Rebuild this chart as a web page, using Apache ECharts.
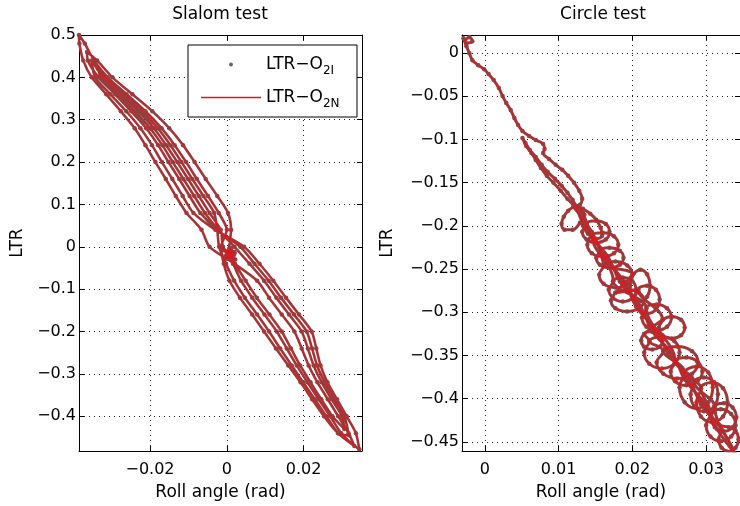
<!DOCTYPE html>
<html><head><meta charset="utf-8">
<script src="https://cdn.jsdelivr.net/npm/echarts@6/dist/echarts.min.js"></script>
<style>html,body{margin:0;padding:0;background:#fff}#c{width:740px;height:506px}</style>
</head><body><div id="c"></div><script>
// ---- tick labels / axis ranges ----
const slalomXTicks = [-0.02, 0, 0.02];
const slalomYTicks = [-0.4, -0.3, -0.2, -0.1, 0, 0.1, 0.2, 0.3, 0.4, 0.5];
const circleXTicks = [0, 0.01, 0.02, 0.03];
const circleYTicks = [-0.45, -0.4, -0.35, -0.3, -0.25, -0.2, -0.15, -0.1, -0.05, 0];
const slalomXRange = [-0.0385, 0.0352];
const slalomYRange = [-0.482, 0.5];
const circleXRange = [-0.0031, 0.0346];
const circleYRange = [-0.4605, 0.021];
const seriesNames = ['LTR-O2I', 'LTR-O2N'];

// ---- Slalom test: [roll angle (rad), LTR] in time order ----
const slalomPath = [
[0.0005,-0.010],[0.0018,-0.020],[-0.0010,-0.004],[0.0022,-0.030],[-0.0004,-0.022],[0.0012,-0.002],[0.0000,-0.014],[0.0020,-0.012],[0.0006,-0.004],
[0.0011,0.04],[0.0003,0.08],[-0.0025,0.12],[-0.0055,0.16],[-0.0084,0.20],[-0.0114,0.24],[-0.0150,0.28],[-0.0194,0.32],[-0.0246,0.36],[-0.0298,0.40],[-0.0338,0.44],[-0.0364,0.46],
[-0.0362,0.44],[-0.0334,0.40],[-0.0291,0.36],[-0.0249,0.32],[-0.0210,0.28],[-0.0179,0.24],[-0.0152,0.20],[-0.0124,0.16],[-0.0097,0.12],[-0.0069,0.08],[-0.0025,0.04],[0.0035,0.00],[0.0072,-0.04],[0.0109,-0.08],[0.0141,-0.12],[0.0175,-0.16],[0.0208,-0.20],[0.0222,-0.24],[0.0235,-0.28],[0.0255,-0.32],[0.0280,-0.36],[0.0306,-0.40],[0.0318,-0.445],
[0.0290,-0.44],[0.0253,-0.40],[0.0222,-0.36],[0.0192,-0.32],[0.0160,-0.28],[0.0128,-0.24],[0.0097,-0.20],[0.0066,-0.16],[0.0034,-0.12],[0.0007,-0.08],[-0.0008,-0.04],[-0.0015,0.00],[0.0000,0.04],[-0.0021,0.08],[-0.0049,0.12],[-0.0078,0.16],[-0.0106,0.20],[-0.0136,0.24],[-0.0170,0.28],[-0.0212,0.32],[-0.0261,0.36],[-0.0310,0.40],[-0.0346,0.44],[-0.0370,0.48],[-0.0385,0.50],
[-0.0384,0.48],[-0.0374,0.44],[-0.0352,0.40],[-0.0314,0.36],[-0.0276,0.32],[-0.0240,0.28],[-0.0212,0.24],[-0.0186,0.20],[-0.0159,0.16],[-0.0133,0.12],[-0.0105,0.08],[-0.0066,0.04],[-0.0045,0.00],[0.0020,-0.04],[0.0079,-0.08],[0.0110,-0.12],[0.0143,-0.16],[0.0176,-0.20],[0.0195,-0.24],[0.0213,-0.28],[0.0236,-0.32],[0.0263,-0.36],[0.0290,-0.40],[0.0317,-0.44],[0.0332,-0.47],
[0.0298,-0.44],[0.0269,-0.40],[0.0239,-0.36],[0.0210,-0.32],[0.0182,-0.28],[0.0156,-0.24],[0.0130,-0.20],[0.0098,-0.16],[0.0066,-0.12],[0.0037,-0.08],[0.0016,-0.04],[-0.0010,0.00],[-0.0016,0.04],[-0.0045,0.08],[-0.0073,0.12],[-0.0101,0.16],[-0.0129,0.20],[-0.0158,0.24],[-0.0190,0.28],[-0.0230,0.32],[-0.0276,0.36],[-0.0322,0.40],[-0.0352,0.44],
[-0.0343,0.40],[-0.0303,0.36],[-0.0262,0.32],[-0.0225,0.28],[-0.0195,0.24],[-0.0169,0.20],[-0.0142,0.16],[-0.0115,0.12],[-0.0087,0.08],[-0.0030,0.04],[0.0045,0.00],[0.0085,-0.04],[0.0121,-0.08],[0.0154,-0.12],[0.0188,-0.16],[0.0221,-0.20],[0.0233,-0.24],[0.0244,-0.28],[0.0262,-0.32],[0.0287,-0.36],[0.0312,-0.40],[0.0336,-0.44],[0.0345,-0.478],
[0.0290,-0.44],[0.0259,-0.40],[0.0229,-0.36],[0.0199,-0.32],[0.0169,-0.28],[0.0139,-0.24],[0.0110,-0.20],[0.0079,-0.16],[0.0047,-0.12],[0.0019,-0.08],[-0.0002,-0.04],[-0.0020,0.00],[-0.0025,0.04],[-0.0033,0.08],[-0.0061,0.12],[-0.0090,0.16],[-0.0118,0.20],[-0.0147,0.24],[-0.0180,0.28],[-0.0221,0.32],[-0.0269,0.36],[-0.0316,0.40],[-0.0335,0.42],
[-0.0328,0.40],[-0.0284,0.36],[-0.0240,0.32],[-0.0200,0.28],[-0.0168,0.24],[-0.0141,0.20],[-0.0113,0.16],[-0.0085,0.12],[-0.0057,0.08],[-0.0022,0.04],[0.0020,0.00],[0.0059,-0.04],[0.0097,-0.08],[0.0129,-0.12],[0.0162,-0.16],[0.0195,-0.20],[0.0211,-0.24],[0.0226,-0.28],[0.0247,-0.32],[0.0273,-0.36],[0.0300,-0.40],[0.0306,-0.43],
[0.0275,-0.40],[0.0246,-0.36],[0.0218,-0.32],[0.0191,-0.28],[0.0167,-0.24],[0.0143,-0.20],[0.0111,-0.16],[0.0078,-0.12],[0.0049,-0.08],[0.0021,-0.04],[0.0010,-0.02],
[0.0004,-0.012],[0.0016,-0.024],[-0.0008,-0.008],[0.0020,-0.016],[-0.0002,-0.028],[0.0010,-0.006],[0.0002,-0.018]
];

// ---- Circle test: [roll angle (rad), LTR] in time order ----
const circlePath = [
[-0.0027,0.0150],[-0.0021,0.0185],[-0.0017,0.0139],[-0.0025,0.0115],[-0.0029,0.0173],[-0.0025,0.0081],[-0.0021,0.0000],[-0.0017,-0.0081],[-0.0009,-0.0139],[-0.0001,-0.0185],[0.0005,-0.0242],[0.0012,-0.0312],[0.0019,-0.0404],[0.0024,-0.0497],[0.0029,-0.0577],[0.0035,-0.0658],[0.0040,-0.0751],[0.0045,-0.0831],[0.0051,-0.0901],
[0.0060,-0.0958],[0.0069,-0.1005],[0.0079,-0.1051],[0.0081,-0.1109],[0.0079,-0.1155],[0.0087,-0.1224],[0.0096,-0.1293],[0.0105,-0.1351],[0.0113,-0.1420],[0.0121,-0.1501],[0.0128,-0.1594],[0.0132,-0.1686],[0.0129,-0.1755],
[0.0121,-0.1778],[0.0113,-0.1824],[0.0107,-0.1894],[0.0104,-0.1975],[0.0108,-0.2044],[0.0119,-0.2044],[0.0129,-0.1963],[0.0135,-0.1871],[0.0128,-0.1790],[0.0120,-0.1755],
[0.0112,-0.1686],[0.0103,-0.1594],[0.0093,-0.1501],[0.0084,-0.1420],[0.0076,-0.1328],[0.0069,-0.1236],[0.0063,-0.1155],[0.0056,-0.1074],[0.0051,-0.0982],
[0.0055,-0.1039],[0.0061,-0.1120],[0.0069,-0.1201],[0.0077,-0.1293],[0.0085,-0.1374],[0.0095,-0.1455],[0.0104,-0.1536],[0.0112,-0.1617],[0.0119,-0.1697],[0.0124,-0.1767],
[0.0133,-0.1801],[0.0143,-0.1859],[0.0151,-0.1928],[0.0157,-0.2021],[0.0159,-0.2113],[0.0151,-0.2148],[0.0140,-0.2090],[0.0133,-0.1998],[0.0131,-0.1905],
[0.0120,-0.1778],[0.0145,-0.2067],[0.0161,-0.2356],[0.0189,-0.2644],[0.0205,-0.2933],[0.0233,-0.3222],[0.0249,-0.3487],[0.0277,-0.3776],[0.0293,-0.4065],[0.0321,-0.4353],[0.0340,-0.4642],
[0.0315,-0.4353],[0.0299,-0.4065],[0.0271,-0.3776],[0.0255,-0.3487],[0.0227,-0.3222],[0.0211,-0.2933],[0.0183,-0.2644],[0.0167,-0.2356],[0.0139,-0.2067],[0.0124,-0.1778],
[0.0138,-0.1977],[0.0132,-0.2067],[0.0138,-0.2157],[0.0151,-0.2194],[0.0164,-0.2157],[0.0169,-0.2067],[0.0164,-0.1977],[0.0151,-0.1940],[0.0138,-0.1977],
[0.0156,-0.2286],[0.0151,-0.2367],[0.0156,-0.2449],[0.0169,-0.2483],[0.0183,-0.2449],[0.0188,-0.2367],[0.0183,-0.2286],[0.0169,-0.2252],[0.0156,-0.2286],
[0.0161,-0.2457],[0.0155,-0.2564],[0.0161,-0.2670],[0.0177,-0.2714],[0.0193,-0.2670],[0.0200,-0.2564],[0.0193,-0.2457],[0.0177,-0.2413],[0.0161,-0.2457],
[0.0201,-0.2560],[0.0197,-0.2691],[0.0201,-0.2821],[0.0211,-0.2875],[0.0220,-0.2821],[0.0224,-0.2691],[0.0220,-0.2560],[0.0211,-0.2506],[0.0201,-0.2560],
[0.0177,-0.2774],[0.0171,-0.2864],[0.0177,-0.2954],[0.0193,-0.2991],[0.0209,-0.2954],[0.0216,-0.2864],[0.0209,-0.2774],[0.0193,-0.2737],[0.0177,-0.2774],
[0.0208,-0.2738],[0.0203,-0.2852],[0.0208,-0.2967],[0.0220,-0.3014],[0.0232,-0.2967],[0.0237,-0.2852],[0.0232,-0.2738],[0.0220,-0.2691],[0.0208,-0.2738],
[0.0241,-0.3086],[0.0236,-0.3176],[0.0241,-0.3265],[0.0253,-0.3303],[0.0266,-0.3265],[0.0271,-0.3176],[0.0266,-0.3086],[0.0253,-0.3049],[0.0241,-0.3086],
[0.0216,-0.3252],[0.0212,-0.3326],[0.0216,-0.3399],[0.0227,-0.3430],[0.0237,-0.3399],[0.0241,-0.3326],[0.0237,-0.3252],[0.0227,-0.3222],[0.0216,-0.3252],
[0.0223,-0.3334],[0.0216,-0.3464],[0.0223,-0.3595],[0.0240,-0.3649],[0.0257,-0.3595],[0.0264,-0.3464],[0.0257,-0.3334],[0.0240,-0.3279],[0.0223,-0.3334],
[0.0242,-0.3449],[0.0233,-0.3580],[0.0242,-0.3710],[0.0261,-0.3765],[0.0281,-0.3710],[0.0289,-0.3580],[0.0281,-0.3449],[0.0261,-0.3395],[0.0242,-0.3449],
[0.0271,-0.3697],[0.0264,-0.3868],[0.0271,-0.4040],[0.0287,-0.4111],[0.0303,-0.4040],[0.0309,-0.3868],[0.0303,-0.3697],[0.0287,-0.3626],[0.0271,-0.3697],
[0.0293,-0.3878],[0.0287,-0.4042],[0.0293,-0.4205],[0.0308,-0.4273],[0.0323,-0.4205],[0.0329,-0.4042],[0.0323,-0.3878],[0.0308,-0.3811],[0.0293,-0.3878],
[0.0306,-0.4177],[0.0300,-0.4307],[0.0306,-0.4438],[0.0320,-0.4492],[0.0334,-0.4438],[0.0340,-0.4307],[0.0334,-0.4177],[0.0320,-0.4122],[0.0306,-0.4177],
[0.0321,-0.4371],[0.0317,-0.4469],[0.0321,-0.4567],[0.0331,-0.4607],[0.0340,-0.4567],[0.0344,-0.4469],[0.0340,-0.4371],[0.0331,-0.4330],
[0.0318,-0.4300],[0.0296,-0.4065],[0.0274,-0.3776],[0.0252,-0.3487],[0.0230,-0.3222],[0.0208,-0.2933],[0.0186,-0.2644],[0.0164,-0.2356],[0.0148,-0.2160],
[0.0145,-0.2119],[0.0139,-0.2217],[0.0145,-0.2315],[0.0160,-0.2356],[0.0175,-0.2315],[0.0181,-0.2217],[0.0175,-0.2119],[0.0160,-0.2079],[0.0145,-0.2119],
[0.0174,-0.2639],[0.0168,-0.2737],[0.0174,-0.2835],[0.0187,-0.2875],[0.0200,-0.2835],[0.0205,-0.2737],[0.0200,-0.2639],[0.0187,-0.2598],[0.0174,-0.2639],
[0.0219,-0.2954],[0.0213,-0.3060],[0.0219,-0.3166],[0.0233,-0.3210],[0.0247,-0.3166],[0.0253,-0.3060],[0.0247,-0.2954],[0.0233,-0.2910],[0.0219,-0.2954],
[0.0258,-0.3569],[0.0252,-0.3684],[0.0258,-0.3798],[0.0273,-0.3845],[0.0288,-0.3798],[0.0295,-0.3684],[0.0288,-0.3569],[0.0273,-0.3522],[0.0258,-0.3569],
[0.0284,-0.3810],[0.0279,-0.3949],[0.0284,-0.4088],[0.0297,-0.4146],[0.0311,-0.4088],[0.0316,-0.3949],[0.0311,-0.3810],[0.0297,-0.3753],[0.0284,-0.3810],
[0.0312,-0.4101],[0.0307,-0.4215],[0.0312,-0.4329],[0.0324,-0.4377],[0.0336,-0.4329],[0.0341,-0.4215],[0.0336,-0.4101],[0.0324,-0.4053],[0.0312,-0.4101],
[0.0336,-0.4584],[0.0345,-0.4700]
];

// ---- styling ----
const FONT = "'DejaVu Sans', Verdana, sans-serif";
const DOT = '#8c4646';
const RED = '#e3141b';
const fmt = v => String(Math.round(v * 1000) / 1000).replace('-', '\u2212');
const tickTxt = {color: '#000', fontSize: 16, fontFamily: FONT};
const nameTxt = {color: '#000', fontSize: 17, fontFamily: FONT};

function xAxisPair(gi, range, ticks) {
  return [{
    type: 'value', gridIndex: gi, position: 'bottom', min: range[0], max: range[1],
    axisLine: {show: true, onZero: false, lineStyle: {color: '#000', width: 1}},
    axisTick: {show: true, inside: true, length: 5, customValues: ticks, lineStyle: {color: '#000'}},
    axisLabel: Object.assign({customValues: ticks, formatter: fmt, margin: 11}, tickTxt),
    splitLine: {show: true, lineStyle: {color: '#222', type: [1, 4], width: 1}},
    name: 'Roll angle (rad)', nameLocation: 'middle', nameGap: 33, nameTextStyle: nameTxt
  }, {
    type: 'value', gridIndex: gi, position: 'top', min: range[0], max: range[1],
    axisLine: {show: true, onZero: false, lineStyle: {color: '#000', width: 1}},
    axisTick: {show: true, inside: true, length: 5, customValues: ticks, lineStyle: {color: '#000'}},
    axisLabel: {show: false}, splitLine: {show: false}
  }];
}
function yAxisPair(gi, range, ticks, gap) {
  return [{
    type: 'value', gridIndex: gi, position: 'left', min: range[0], max: range[1],
    axisLine: {show: true, onZero: false, lineStyle: {color: '#000', width: 1}},
    axisTick: {show: true, inside: true, length: 5, customValues: ticks, lineStyle: {color: '#000'}},
    axisLabel: Object.assign({customValues: ticks, formatter: fmt, margin: 3}, tickTxt),
    splitLine: {show: true, lineStyle: {color: '#222', type: [1, 4], width: 1}},
    name: 'LTR', nameLocation: 'middle', nameGap: gap, nameTextStyle: nameTxt
  }, {
    type: 'value', gridIndex: gi, position: 'right', min: range[0], max: range[1],
    axisLine: {show: true, onZero: false, lineStyle: {color: '#000', width: 1}},
    axisTick: {show: true, inside: true, length: 5, customValues: ticks, lineStyle: {color: '#000'}},
    axisLabel: {show: false}, splitLine: {show: false}
  }];
}

function dots(xi, yi, data, w, sm) {
  return {name: seriesNames[0], type: 'line', xAxisIndex: xi, yAxisIndex: yi, data: data,
    symbol: 'circle', symbolSize: 4.5, showSymbol: true, smooth: sm,
    lineStyle: {color: DOT, width: w}, itemStyle: {color: DOT}, z: 2, silent: true};
}
function redLine(xi, yi, data, sm) {
  return {name: seriesNames[1], type: 'line', xAxisIndex: xi, yAxisIndex: yi, data: data,
    symbol: 'none', smooth: sm, lineStyle: {color: RED, width: 0.9}, itemStyle: {color: RED}, z: 3, silent: true};
}

const legendRich = {
  a: {fontSize: 17, fontFamily: FONT, color: '#000', lineHeight: 24, verticalAlign: 'middle'},
  s: {fontSize: 12, fontFamily: FONT, color: '#000', lineHeight: 12, verticalAlign: 'bottom'}
};
const legendFmt = n => '{a|LTR\u2212O}{s|' + n.slice(5) + '}';

const chart = echarts.init(document.getElementById('c'), null, {renderer: 'canvas'});
chart.setOption({
  animation: false,
  backgroundColor: '#fff',
  title: [
    {text: 'Slalom test', left: 220, top: 6, textAlign: 'center', padding: 0,
     textStyle: {fontSize: 17, fontWeight: 'normal', color: '#000', fontFamily: FONT}},
    {text: 'Circle test', left: 603, top: 6, textAlign: 'center', padding: 0,
     textStyle: {fontSize: 17, fontWeight: 'normal', color: '#000', fontFamily: FONT}}
  ],
  grid: [
    {left: 79, top: 35, width: 283, height: 417},
    {left: 462, top: 35, width: 283, height: 417}
  ],
  xAxis: [].concat(xAxisPair(0, slalomXRange, slalomXTicks), xAxisPair(1, circleXRange, circleXTicks)),
  yAxis: [].concat(yAxisPair(0, slalomYRange, slalomYTicks, 53), yAxisPair(1, circleYRange, circleYTicks, 66)),
  legend: [
    {data: [{name: seriesNames[0], icon: 'circle', itemStyle: {color: '#666'}}], left: 229, top: 56, padding: 0,
     itemWidth: 60, itemHeight: 4, formatter: legendFmt, textStyle: {rich: legendRich}, z: 10, selectedMode: false},
    {data: [{name: seriesNames[1], icon: 'rect', itemStyle: {color: RED, borderWidth: 0}, lineStyle: {color: RED}}],
     left: 201, top: 89, padding: 0,
     itemWidth: 60, itemHeight: 1.5, formatter: legendFmt, textStyle: {rich: legendRich}, z: 10, selectedMode: false}
  ],
  graphic: [{type: 'rect', z: 9, shape: {x: 188, y: 45, width: 169, height: 72},
    style: {fill: '#fff', stroke: '#000', lineWidth: 1}}],
  series: [
    dots(0, 0, slalomPath, 2.6, 0.25), redLine(0, 0, slalomPath, 0.25),
    dots(2, 2, circlePath, 3, 0.4), redLine(2, 2, circlePath, 0.4)
  ]
});
</script></body></html>
